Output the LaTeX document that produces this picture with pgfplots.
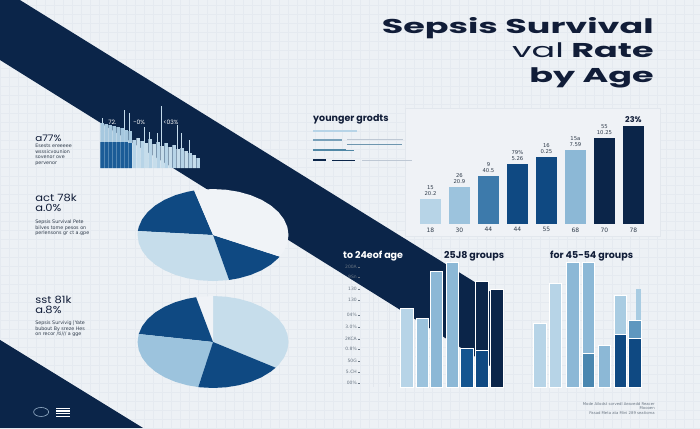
\documentclass[border=0pt]{standalone}
\usepackage{fontspec}
\usepackage{pgfplots}
\pgfplotsset{compat=1.18}
\setmainfont{DejaVu Sans}
\newfontfamily\popfont{Poppins}
\newfontfamily\headfont{Poppins}[FakeStretch=1.15]
\newfontfamily\titlefont{Poppins}[FakeStretch=1.75]
\newfontfamily\smallfont{DejaVu Sans}
\definecolor{bg}{RGB}{237,241,245}
\definecolor{gridc}{RGB}{229,234,240}
\definecolor{panelc}{RGB}{226,231,237}
\definecolor{panelf}{RGB}{239,242,246}
\definecolor{pwhite}{RGB}{240,243,247}
\definecolor{navy}{RGB}{11,37,73}
\definecolor{titlec}{RGB}{17,29,56}
\definecolor{dblue}{RGB}{15,73,130}
\definecolor{dblue2}{RGB}{21,85,144}
\definecolor{mblue}{RGB}{61,122,171}
\definecolor{lblue}{RGB}{140,184,214}
\definecolor{lblue2}{RGB}{156,195,221}
\definecolor{llblue}{RGB}{183,212,231}
\definecolor{pale}{RGB}{198,221,235}
\definecolor{pale2}{RGB}{169,204,226}
\definecolor{teal1}{RGB}{74,135,176}
\definecolor{teal2}{RGB}{95,151,191}
\definecolor{minid}{RGB}{27,92,151}
\definecolor{minil}{RGB}{166,200,223}
\definecolor{spike}{RGB}{196,219,235}
\definecolor{greyt}{RGB}{105,117,130}
\definecolor{textc}{RGB}{48,60,75}
\definecolor{yl2}{RGB}{120,160,185}
\definecolor{yl3}{RGB}{110,150,175}
\definecolor{yl4}{RGB}{80,135,165}
\definecolor{ylg}{RGB}{190,200,212}
\definecolor{iconc}{RGB}{150,175,200}
\pgfplotsset{
  ub/.style={ybar, bar width=0.72, bar shift=0pt, draw=none},
  lowbar/.style={ybar, bar width=12.5, bar shift=0pt, draw=white, line width=0.5pt},
  minibar/.style={ybar, bar width=3.4, bar shift=0pt, draw=none},
  pieax/.style={anchor=center, scale only axis, width=151pt, height=92pt,
     xmin=-1, xmax=1, ymin=-1, ymax=1, hide axis, clip=false},
}
\begin{document}
\begin{tikzpicture}[x=1pt,y=1pt]
\fill[bg] (0pt,0pt) rectangle (700pt,428pt);
\draw[gridc, line width=0.25pt, step=9pt] (0pt,0pt) grid (700pt,428pt);

% ---------- page-level decorations (px coordinates, y downwards)
\begin{axis}[at={(0pt,0pt)}, anchor=south west, scale only axis, width=700pt, height=428pt,
  xmin=0, xmax=700, ymin=0, ymax=428, y dir=reverse, hide axis]
 \addplot[draw=panelc, fill=panelf, line width=0.5pt] coordinates {(405,108) (660,108) (660,236) (405,236) (405,108)};
 \addplot[draw=panelc, line width=0.6pt] coordinates {(373,290) (373,387)};
 \addplot[draw=panelc, line width=0.6pt] coordinates {(389,300) (389,387)};
 \addplot[fill=navy, draw=none] coordinates {(0,0) (20,0) (503,299.5) (503,374) (0,60)};
 \addplot[fill=navy, draw=none] coordinates {(0,340) (0,428) (143,428)};
 % younger panel lines
 \addplot[llblue, line width=2.2pt] coordinates {(313,131) (357,131)};
 \addplot[yl2, line width=2pt] coordinates {(313,140) (342,140)};
 \addplot[ylg, line width=0.8pt] coordinates {(347,139) (403,139)};
 \addplot[yl3, line width=1pt] coordinates {(347,144) (402,144)};
 \addplot[yl4, line width=2pt] coordinates {(313,150) (346,150)};
 \addplot[yl4, line width=0.8pt] coordinates {(346,150) (354,150)};
 \addplot[navy, line width=2pt] coordinates {(313,160) (326,160)};
 \addplot[navy, line width=1pt] coordinates {(332,160) (355,160)};
 \addplot[ylg, line width=0.8pt] coordinates {(362,160) (412,160)};
\end{axis}

% ---------- mini chart (top left)
\begin{axis}[at={(100pt,260pt)}, anchor=south west, scale only axis, width=100pt, height=70pt,
  xmin=100, xmax=200, ymin=0, ymax=70, hide axis, clip=false]
 \addplot[ycomb, spike, line width=0.8pt, mark=none] coordinates {(102,50) (124,58) (129,55) (144,41) (149,36) (157,35) (161,62) (177,43) (181,35) (189,28)};
 \addplot[minibar, fill=minil] coordinates {(102,45) (106,44) (110,43) (114,42) (118,41) (122,40) (126,38) (130,37)};
 \addplot[minibar, fill=minid] coordinates {(102,26) (106,26) (110,26) (114,26) (118,26) (122,26) (126,26) (130,25)};
 \addplot[minibar, fill=llblue] coordinates {(134,28) (142,27) (150,29) (158,26) (166,25) (174,23) (182,20) (190,15) (198,10)};
 \addplot[minibar, fill=pale] coordinates {(138,30) (146,25) (154,24) (162,22) (170,21) (178,19) (186,17) (194,13)};
\end{axis}

% ---------- upper bar chart
\begin{axis}[at={(416pt,204pt)}, anchor=south west, scale only axis, width=232pt, height=100pt,
  xmin=-0.5, xmax=7.5, ymin=0, ymax=100, axis line style={draw=none}, ytick=\empty,
  xtick={0,...,7}, xticklabels={18,30,44,44,55,68,70,78}, xtick style={draw=none},
  xticklabel style={font=\smallfont\fontsize{6}{6}\selectfont, text=textc},
  every node near coord/.append style={font=\smallfont\fontsize{5.3}{6}\selectfont, align=center, text=textc, inner sep=1pt, yshift=2pt},
  clip=false]
 \addplot[ub, fill=llblue, point meta=explicit symbolic, nodes near coords] coordinates {(0,25) [{15\\20.2}]};
 \addplot[ub, fill=lblue2, point meta=explicit symbolic, nodes near coords] coordinates {(1,37) [{26\\20.9}]};
 \addplot[ub, fill=mblue, point meta=explicit symbolic, nodes near coords] coordinates {(2,48) [{9\\40.5}]};
 \addplot[ub, fill=dblue, point meta=explicit symbolic, nodes near coords] coordinates {(3,60) [{79\%\\5.26}]};
 \addplot[ub, fill=dblue, point meta=explicit symbolic, nodes near coords] coordinates {(4,67) [{16\\0.25}]};
 \addplot[ub, fill=lblue, point meta=explicit symbolic, nodes near coords] coordinates {(5,74) [{15a\\7.59}]};
 \addplot[ub, fill=navy, point meta=explicit symbolic, nodes near coords] coordinates {(6,86) [{55\\10.25}]};
 \addplot[ub, fill=navy, point meta=explicit symbolic, nodes near coords,
   every node near coord/.append style={font=\popfont\bfseries\fontsize{8}{8}\selectfont, text=titlec}] coordinates {(7,98) [{23\%}]};
\end{axis}

% ---------- lower bar chart
\begin{axis}[at={(360pt,41pt)}, anchor=south west, scale only axis, width=300pt, height=130pt,
  xmin=360, xmax=660, ymin=0, ymax=130, axis line style={draw=none}, xtick=\empty,
  ytick={4,15,26,38,48,60,72,87,98,110,120},
  yticklabels={00\%,5.CH,50G,0.8\%,2KCA,3.0\%,04\%,130,130,9Sn,200A},
  ytick pos=left, tick align=outside, major tick length=2pt, tick style={greyt, line width=0.4pt},
  yticklabel style={font=\smallfont\fontsize{4.5}{5}\selectfont, text=greyt, inner sep=1pt},
  clip=false]
 % 25-38 groups
 \addplot[lowbar, fill=llblue] coordinates {(407,79)};
 \addplot[lowbar, fill=lblue2] coordinates {(422.5,69)};
 \addplot[lowbar, fill=lblue] coordinates {(436.5,116) (452.5,125)};
 \addplot[lowbar, fill=dblue2] coordinates {(467,39)};
 \addplot[lowbar, fill=navy] coordinates {(482,106) (497,98)};
 \addplot[lowbar, fill=dblue] coordinates {(482,37)};
 % 45-54 groups
 \addplot[lowbar, fill=llblue] coordinates {(540,64) (555.5,104)};
 \addplot[lowbar, fill=lblue] coordinates {(573,125) (588.5,125) (604.5,42)};
 \addplot[lowbar, fill=teal1] coordinates {(588.5,34)};
 \addplot[lowbar, fill=pale2] coordinates {(620.5,92)};
 \addplot[lowbar, fill=dblue] coordinates {(620.5,53)};
 \addplot[ybar, bar width=5, bar shift=0pt, draw=none, fill=pale2] coordinates {(638.5,98)};
 \addplot[lowbar, fill=teal2] coordinates {(635,67)};
 \addplot[lowbar, fill=dblue] coordinates {(635,49)};
\end{axis}

% ---------- pie 1
\begin{axis}[pieax, at={(213pt,193pt)}]
 \addplot[fill=dblue, draw=none, data cs=polar] coordinates {(0,0) (104.5,1) (110,1) (120,1) (130,1) (140,1) (150,1) (160,1) (170,1) (175,1)};
 \addplot[fill=pale, draw=none, data cs=polar] coordinates {(0,0) (175,1) (180,1) (190,1) (200,1) (210,1) (220,1) (230,1) (240,1) (250,1) (260,1) (270,1) (280,1) (282.3,1)};
 \addplot[fill=dblue, draw=none, data cs=polar] coordinates {(0,0) (282.3,1) (290,1) (300,1) (310,1) (320,1) (330,1) (332,1)};
 \addplot[fill=pwhite, draw=none, data cs=polar] coordinates {(0,0) (-28,1) (-20,1) (-10,1) (0,1) (10,1) (20,1) (30,1) (40,1) (50,1) (60,1) (70,1) (80,1) (90,1) (100,1) (104.5,1)};
\end{axis}

% ---------- pie 2
\begin{axis}[pieax, at={(213pt,86pt)}]
 \addplot[fill=pale, draw=none, data cs=polar] coordinates {(0,0) (-34,1) (-30,1) (-20,1) (-10,1) (0,1) (10,1) (20,1) (30,1) (40,1) (50,1) (60,1) (70,1) (80,1) (90,1)};
 \addplot[fill=pwhite, draw=none, data cs=polar] coordinates {(0,0) (90,1) (100,1) (103,1)};
 \addplot[fill=dblue, draw=none, data cs=polar] coordinates {(0,0) (103,1) (110,1) (120,1) (130,1) (140,1) (150,1) (160,1) (170,1)};
 \addplot[fill=lblue2, draw=none, data cs=polar] coordinates {(0,0) (170,1) (180,1) (190,1) (200,1) (210,1) (220,1) (230,1) (240,1) (250,1) (258.7,1)};
 \addplot[fill=dblue, draw=none, data cs=polar] coordinates {(0,0) (258.7,1) (260,1) (270,1) (280,1) (290,1) (300,1) (310,1) (320,1) (326,1)};
\end{axis}

% ---------- texts
\node[anchor=base east, inner sep=0, text=titlec, font=\titlefont\bfseries\fontsize{20}{20}\selectfont] at (654pt,395pt) {Sepsis Survival};
\node[anchor=base east, inner sep=0, text=titlec, font=\titlefont\bfseries\fontsize{20}{20}\selectfont] at (654pt,371pt) {{\mdseries val} Rate};
\node[anchor=base east, inner sep=0, text=titlec, font=\titlefont\bfseries\fontsize{20}{20}\selectfont] at (654pt,346pt) {by Age};

\node[anchor=base west, inner sep=0, text=titlec, font=\popfont\bfseries\fontsize{9.5}{9.5}\selectfont] at (313pt,307pt) {younger grodts};

\node[anchor=base west, inner sep=0, text=white, font=\popfont\bfseries\fontsize{9.5}{9.5}\selectfont] at (343pt,170pt) {to 24eof age};
\node[anchor=base west, inner sep=0, text=titlec, font=\popfont\bfseries\fontsize{9.5}{9.5}\selectfont] at (444pt,170pt) {25J8 groups};
\node[anchor=base west, inner sep=0, text=titlec, font=\popfont\bfseries\fontsize{9.5}{9.5}\selectfont] at (550pt,170pt) {for 45-54 groups};

\node[anchor=west, inner sep=0, text=white, font=\popfont\fontsize{6}{6}\selectfont] at (108pt,306pt) {72.};
\node[anchor=west, inner sep=0, text=white, font=\popfont\fontsize{6}{6}\selectfont] at (133pt,306pt) {-0\%};
\node[anchor=west, inner sep=0, text=white, font=\popfont\fontsize{6}{6}\selectfont] at (163pt,306pt) {<03\%};

\node[anchor=base west, inner sep=0, text=titlec, font=\headfont\fontsize{9}{9}\selectfont] at (35pt,287pt) {a77\%};
\node[anchor=north west, inner sep=0, align=left, text=textc, font=\smallfont\fontsize{4.8}{5.6}\selectfont] at (35pt,284pt) {Esests ereeeee\\wsssicvounion\\sovenor ove\\pervenor};

\node[anchor=base west, inner sep=0, text=titlec, font=\headfont\fontsize{10}{10}\selectfont] at (35pt,227pt) {act 78k};
\node[anchor=base west, inner sep=0, text=titlec, font=\headfont\fontsize{10}{10}\selectfont] at (35pt,217pt) {a.0\%};
\node[anchor=north west, inner sep=0, align=left, text=textc, font=\smallfont\fontsize{4.8}{5.3}\selectfont] at (35pt,208pt) {Sepsis Survival Pete\\bilves tome pesos on\\perlensons gr ct a.gpe};

\node[anchor=base west, inner sep=0, text=titlec, font=\headfont\fontsize{10}{10}\selectfont] at (35pt,125pt) {sst 81k};
\node[anchor=base west, inner sep=0, text=titlec, font=\headfont\fontsize{10}{10}\selectfont] at (35pt,115pt) {a.8\%};
\node[anchor=north west, inner sep=0, align=left, text=textc, font=\smallfont\fontsize{4.8}{5.3}\selectfont] at (35pt,107pt) {Sepsis Survivig |Yate\\bubout By sreze Hes\\on recor /ti/// a gge};

\node[anchor=north east, inner sep=0, align=right, text=greyt, font=\smallfont\fontsize{3.8}{4.5}\selectfont] at (655pt,26pt) {Mode Ailodst sorvedl Aeavedd Reacer\\Moooen\\Pasad Meta ata Mini 289 seatioma};

% icons
\draw[iconc, line width=0.6pt] (41pt,16pt) ellipse [x radius=7.5pt, y radius=4.5pt];
\draw[white, line width=1.1pt] (56pt,19.7pt) -- (70pt,19.7pt) (56pt,17pt) -- (70pt,17pt) (56pt,14.3pt) -- (70pt,14.3pt) (56pt,11.7pt) -- (70pt,11.7pt);
\end{tikzpicture}
\end{document}
